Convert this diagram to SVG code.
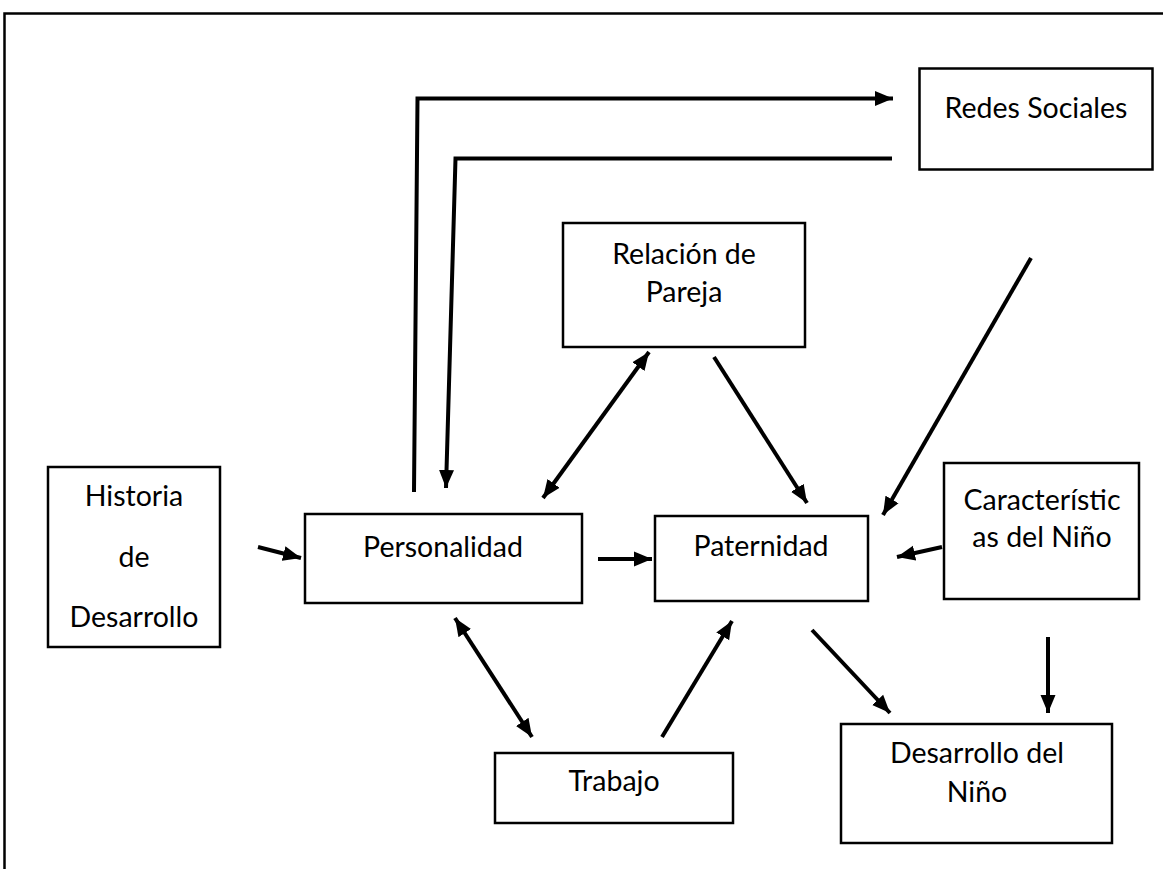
<svg xmlns="http://www.w3.org/2000/svg" width="1163" height="869" viewBox="0 0 1163 869">
<style>
.box{fill:#fff;stroke:#000;stroke-width:2.5}
.t{font-family:Lato,"Liberation Sans",sans-serif;font-size:28.5px;fill:#000;text-anchor:middle}
.c{fill:none;stroke:#000;stroke-width:4}
.frame{fill:none;stroke:#000;stroke-width:2.5}
</style>
<defs>
<marker id="ah" markerUnits="userSpaceOnUse" markerWidth="20" markerHeight="16" refX="18" refY="8" orient="auto-start-reverse">
<path d="M0,0.5 L18,8 L0,15.5 z" fill="#000"/>
</marker>
</defs>
<rect width="1163" height="869" fill="#fff"/>
<path class="frame" d="M4.5,869 L4.5,13.5 L1163,13.5"/>
<g id="redes"><rect class="box" x="919.5" y="68.5" width="233" height="101"/><text class="t" x="1036" y="118">Redes Sociales</text></g>
<g id="relacion"><rect class="box" x="563" y="223" width="242" height="124"/><text class="t" x="684" y="264">Relación de</text><text class="t" x="684" y="302">Pareja</text></g>
<g id="historia"><rect class="box" x="48" y="467" width="172" height="180"/><text class="t" x="134" y="506">Historia</text><text class="t" x="134" y="567">de</text><text class="t" x="134" y="627">Desarrollo</text></g>
<g id="personalidad"><rect class="box" x="305" y="514" width="277" height="89"/><text class="t" x="443" y="557">Personalidad</text></g>
<g id="paternidad"><rect class="box" x="655" y="516" width="213" height="85"/><text class="t" x="761" y="556">Paternidad</text></g>
<g id="caracteristicas"><rect class="box" x="944" y="463" width="195" height="136"/><text class="t" x="1042" y="510">Característic</text><text class="t" x="1042" y="547">as del Niño</text></g>
<g id="trabajo"><rect class="box" x="495" y="753" width="238" height="70"/><text class="t" x="614" y="791">Trabajo</text></g>
<g id="desarrollo"><rect class="box" x="841" y="724" width="271" height="119"/><text class="t" x="977" y="763">Desarrollo del</text><text class="t" x="977" y="802">Niño</text></g>
<g id="connectors">
<path class="c" d="M414,492 L417.5,98.5 L893,98.5" marker-end="url(#ah)"/>
<path class="c" d="M892,158.5 L455.5,158.5 L446,488" marker-end="url(#ah)"/>
<line class="c" x1="1031" y1="258" x2="883" y2="515" marker-end="url(#ah)"/>
<line class="c" x1="258" y1="547" x2="301" y2="558" marker-end="url(#ah)"/>
<line class="c" x1="598" y1="559" x2="652" y2="559" marker-end="url(#ah)"/>
<line class="c" x1="543" y1="498" x2="649" y2="352" marker-start="url(#ah)" marker-end="url(#ah)"/>
<line class="c" x1="714" y1="357" x2="807" y2="503" marker-end="url(#ah)"/>
<line class="c" x1="942" y1="547" x2="897" y2="557" marker-end="url(#ah)"/>
<line class="c" x1="455" y1="618" x2="532" y2="737" marker-start="url(#ah)" marker-end="url(#ah)"/>
<line class="c" x1="662" y1="737" x2="732" y2="621" marker-end="url(#ah)"/>
<line class="c" x1="812" y1="630" x2="890" y2="713" marker-end="url(#ah)"/>
<line class="c" x1="1048" y1="637" x2="1048" y2="713" marker-end="url(#ah)"/>
</g>
</svg>
